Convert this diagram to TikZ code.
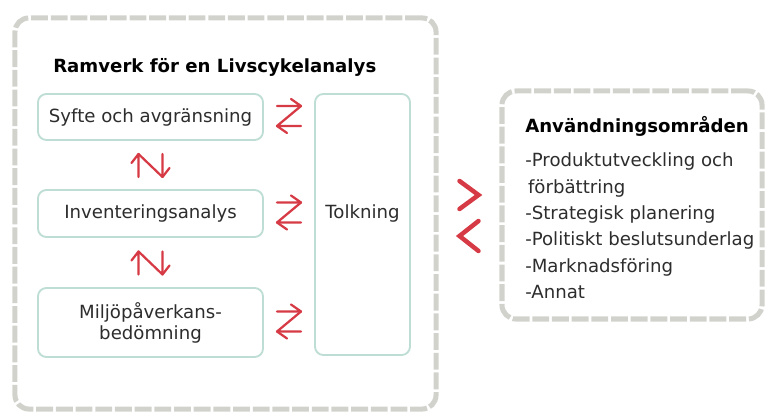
\documentclass[tikz,border=0pt]{standalone}
\usepackage{fontspec}
\setmainfont{DejaVu Sans}
\usetikzlibrary{calc,positioning}
\definecolor{cRod}{RGB}{214,58,68}
\definecolor{cRam}{RGB}{210,210,205}
\definecolor{cLada}{RGB}{190,222,213}
\definecolor{cText}{RGB}{45,45,45}

\begin{document}
\begin{tikzpicture}[x=0.025cm,y=-0.025cm,
  ram/.style={draw=cRam,line width=3.6pt,dash pattern=on 12pt off 2pt,rounded corners=10pt,inner sep=0pt},
  lada/.style={draw=cLada,line width=1.3pt,rounded corners=6pt,fill=white,inner sep=0pt,
               text=cText,font=\fontsize{12.9}{15}\selectfont,align=center},
  rubrik/.style={text=black,font=\fontsize{12.9}{15}\selectfont\bfseries,inner sep=0pt},
  lista/.style={text=cText,font=\fontsize{12.9}{15}\selectfont,inner sep=0pt},
  pil/.style={cRod,line width=1.6pt,line cap=round,line join=round},
  chev/.style={cRod,line width=3.2pt,line cap=round,line join=miter}]
  \useasboundingbox (0,0) rectangle (765,412);

  % ramarna
  \node[ram,minimum width=10.525cm,minimum height=9.775cm] (vram) at (225.5,213.5) {};
  \node[ram,minimum width=6.5cm,minimum height=5.7cm] (hram) at (632,205) {};

  % vänstra delen
  \node[rubrik,anchor=base west] (vtitel) at (53,73) {Ramverk för en Livscykelanalys};
  \node[lada,minimum width=5.625cm,minimum height=1.15cm] (syfte) at (150.5,117) {Syfte och avgränsning};
  \node[lada,minimum width=5.625cm,minimum height=1.175cm] (inv) at (150.5,213.5) {Inventeringsanalys};
  \node[lada,minimum width=5.625cm,minimum height=1.725cm] (milj) at (150.5,322.5) {Miljöpåverkans-\\bedömning};
  \node[lada,minimum width=2.375cm,minimum height=6.525cm] (tolk) at (362.5,224.5) {};
  \node[lista] (tolktext) at (tolk |- inv) {Tolkning};

  % pilar mot tolkning
  \foreach \n in {syfte,inv,milj} {
    \coordinate (c) at ($(\n.east)!0.5!(tolk.west |- \n.east)$);
    \draw[pil] ($(c)+(-12,-11)$) -- ($(c)+(12,-11)$) -- ($(c)+(2,-18)$);
    \draw[pil] ($(c)+(12,-11)$) -- ($(c)+(-12,9)$) -- ($(c)+(12,9)$);
    \draw[pil] ($(c)+(-12,9)$) -- ($(c)+(-2,16)$);
  }
  % pilar mellan stegen
  \foreach \a/\b in {syfte/inv,inv/milj} {
    \coordinate (c) at ($(\a.south)!0.5!(\b.north)$);
    \draw[pil] ($(c)+(-12,12)$) -- ($(c)+(-12,-11)$) -- ($(c)+(-19,-2)$);
    \draw[pil] ($(c)+(-12,-11)$) -- ($(c)+(12,12)$) -- ($(c)+(12,-11)$);
    \draw[pil] ($(c)+(12,12)$) -- ($(c)+(19,3)$);
  }

  % chevroner mellan ramarna
  \coordinate (mitt) at ($(vram.east |- 0,216)!0.5!(hram.west |- 0,216)$);
  \draw[chev] ($(mitt)+(-9.5,-35)$) -- ($(mitt)+(9.5,-21)$) -- ($(mitt)+(-9.5,-7)$);
  \draw[chev] ($(mitt)+(9.5,5)$) -- ($(mitt)+(-9.5,20)$) -- ($(mitt)+(9.5,35)$);

  % högra delen
  \node[rubrik,anchor=base west] (htitel) at (525,133) {Användningsområden};
  \foreach \t [count=\i from 0] in {-Produktutveckling och,\hspace{2pt}förbättring,-Strategisk planering,
      -Politiskt beslutsunderlag,-Marknadsföring,-Annat}
    \node[lista,anchor=base west] (rad\i) at (525,{167+26.3*\i}) {\t};
\end{tikzpicture}
\end{document}
